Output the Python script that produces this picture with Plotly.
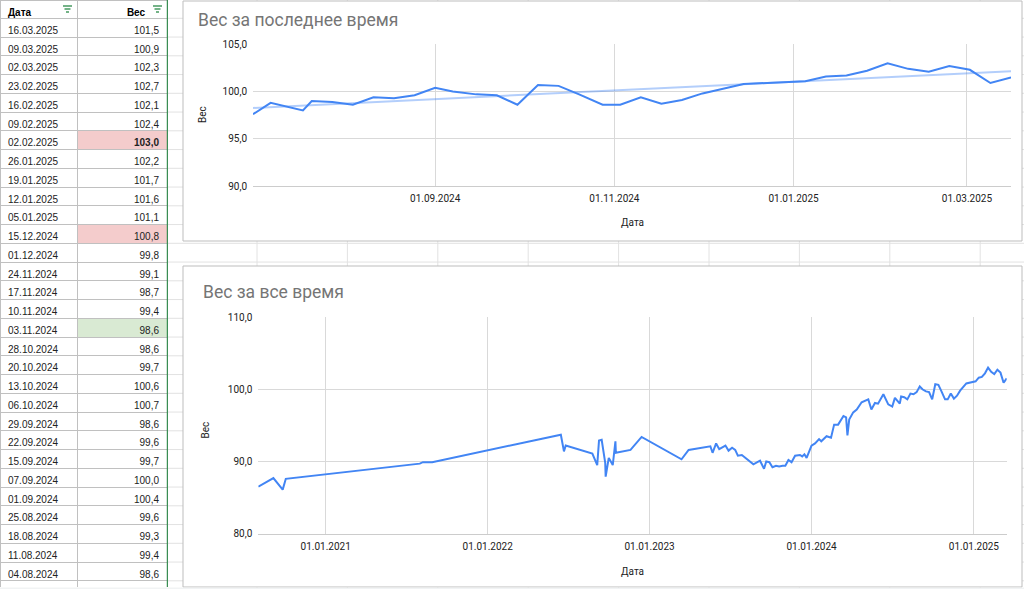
import numpy as np
import pandas as pd
import plotly.graph_objects as go

W, H = 1024, 589

# вся история веса (прочитано с графика "за все время"), от старых к новым
dates = [
    "2020-08-02", "2020-09-05", "2020-09-26", "2020-10-03",
    "2021-08-01", "2021-08-08", "2021-08-29",
    "2022-06-15", "2022-06-22", "2022-06-26", "2022-08-25", "2022-09-05",
    "2022-09-09", "2022-09-15", "2022-09-23", "2022-09-24", "2022-10-01",
    "2022-10-10", "2022-10-16", "2022-10-17", "2022-11-19", "2022-12-14",
    "2023-03-14", "2023-03-30", "2023-05-18", "2023-05-23", "2023-05-31",
    "2023-06-07", "2023-06-21", "2023-06-28", "2023-07-06", "2023-07-13",
    "2023-07-19", "2023-07-28", "2023-08-23", "2023-09-07", "2023-09-16",
    "2023-09-21", "2023-09-28", "2023-10-05", "2023-10-13", "2023-10-20",
    "2023-10-28", "2023-11-03", "2023-11-10", "2023-11-17", "2023-11-25",
    "2023-12-06", "2023-12-11", "2023-12-16", "2023-12-21",
    "2024-01-01", "2024-01-09", "2024-01-18", "2024-01-23", "2024-02-04",
    "2024-02-14", "2024-02-21", "2024-03-01", "2024-03-13", "2024-03-19",
    "2024-03-22", "2024-03-26", "2024-04-04", "2024-04-12", "2024-04-23",
    "2024-05-08", "2024-05-15", "2024-05-23", "2024-05-30", "2024-06-11",
    "2024-06-22", "2024-07-01", "2024-07-07", "2024-07-18", "2024-07-21",
    "2024-07-28", "2024-08-04", "2024-08-11", "2024-08-18", "2024-08-25",
    "2024-09-01", "2024-09-07", "2024-09-15", "2024-09-22", "2024-09-29",
    "2024-10-06", "2024-10-13", "2024-10-20", "2024-10-28", "2024-11-03",
    "2024-11-10", "2024-11-17", "2024-11-24", "2024-12-01", "2024-12-15",
    "2025-01-05", "2025-01-12", "2025-01-19", "2025-01-26", "2025-02-02",
    "2025-02-09", "2025-02-16", "2025-02-23", "2025-03-02", "2025-03-09",
    "2025-03-16",
]
weights = [
    86.5, 87.7, 86.1, 87.6,
    89.7, 89.9, 89.9,
    93.7, 91.4, 92.2, 91.1, 89.5,
    92.9, 93.0, 89.8, 87.9, 90.5,
    89.5, 92.8, 91.2, 91.6, 93.4,
    90.3, 91.6, 92.1, 91.2, 92.5,
    91.7, 92.2, 91.5, 91.9, 91.6,
    90.8, 90.9, 89.6, 90.1, 89.0,
    90.0, 89.9, 89.2, 89.4, 89.3,
    89.4, 89.4, 90.2, 89.9, 90.8,
    90.9, 90.7, 91.0, 90.5,
    92.2, 92.5, 93.1, 92.8, 93.5,
    93.3, 95.1, 95.1, 96.3, 96.1,
    93.6, 95.8, 96.8, 97.2, 98.2,
    98.6, 97.2, 98.1, 98.0, 99.3,
    97.9, 97.6, 98.8, 98.0, 99.0,
    98.9, 98.6, 99.4, 99.3, 99.6,
    100.4, 100.0, 99.7, 99.6, 98.6,
    100.7, 100.6, 99.7, 98.6, 98.6,
    99.4, 98.7, 99.1, 99.8, 100.8,
    101.1, 101.6, 101.7, 102.2, 103.0,
    102.4, 102.1, 102.7, 102.3, 100.9,
    101.5,
]

recent_start = "2024-07-01"
table_start = "2024-07-28"
recent_ticks = ["2024-09-01", "2024-11-01", "2025-01-01", "2025-03-01"]
all_ticks = ["2021-01-01", "2022-01-01", "2023-01-01", "2024-01-01", "2025-01-01"]

# подсветка ячеек в таблице
highlight = {"02.02.2025": "#f4cccc", "15.12.2024": "#f4cccc", "03.11.2024": "#d9ead3"}
bold_rows = ["02.02.2025"]

df = pd.DataFrame({"date": pd.to_datetime(dates), "w": weights})
recent = df[df["date"] >= recent_start]

# линия тренда (линейная) для последнего периода
t = (recent["date"] - recent["date"].iloc[0]).dt.days.values
coef = np.polyfit(t, recent["w"].values, 1)
trend_x = [recent["date"].iloc[0], recent["date"].iloc[-1]]
trend_y = list(np.polyval(coef, [t[0], t[-1]]))

# таблица: новые сверху
tab = df[df["date"] >= table_start].sort_values("date", ascending=False)
tab_dates = tab["date"].dt.strftime("%d.%m.%Y").tolist()
tab_vals = [f"{v:.1f}".replace(".", ",") for v in tab["w"]]
fill_b = [highlight.get(d, "white") for d in tab_dates]
weight_b = ["bold" if d in bold_rows else "normal" for d in tab_dates]
n = len(tab_dates)


def px(x):
    return x / W


def py(y):
    return 1 - y / H


BLUE = "#4285f4"
GRID = "#d9d9d9"
TXT = "#222222"
HEAD_H = 18.3
ROW_H = 18.75

fig = go.Figure()

fig.add_trace(go.Table(
    domain=dict(x=[0, px(167)], y=[py(587), 1]),
    columnwidth=[77, 90],
    header=dict(values=["Дата", "Вес" + "\u00a0" * 5],
                align=["left", "right"], height=HEAD_H,
                fill_color="white", line=dict(color="#c0c0c0", width=1),
                font=dict(family="Liberation Sans, Arial", size=10,
                          color="#000000", weight="bold")),
    cells=dict(values=[tab_dates, tab_vals],
               align=["left", "right"], height=ROW_H,
               fill=dict(color=[["white"] * n, fill_b]),
               line=dict(color="#c0c0c0", width=1),
               font=dict(family="Liberation Sans, Arial", size=10, color=TXT)),
))
# plotly.py не пускает 2D-массив для weight, а plotly.js его понимает (по ячейкам)
fig.data[0].cells.font._props["weight"] = [["normal"] * n, weight_b]

fig.add_trace(go.Scatter(x=trend_x, y=trend_y, mode="lines",
                         line=dict(color="rgba(66,133,244,0.4)", width=2),
                         xaxis="x", yaxis="y", hoverinfo="skip"))
fig.add_trace(go.Scatter(x=recent["date"], y=recent["w"], mode="lines",
                         line=dict(color=BLUE, width=2), xaxis="x", yaxis="y"))
fig.add_trace(go.Scatter(x=df["date"], y=df["w"], mode="lines",
                         line=dict(color=BLUE, width=2), xaxis="x2", yaxis="y2"))

axis_font = dict(family="Roboto", size=10, color=TXT)
xcommon = dict(type="date", tickformat="%d.%m.%Y", showgrid=True, gridcolor=GRID,
               gridwidth=1, showline=True, linecolor="#cccccc", ticks="",
               tickfont=axis_font, zeroline=False, automargin=False, ticklabelstandoff=3)
ycommon = dict(tickformat=".1f", showgrid=True, gridcolor=GRID, ticks="",
               tickfont=axis_font, zeroline=False, automargin=False, ticklabelstandoff=5)

# фон листа: сетка ячеек, рамки диаграмм
shapes = []
for k in range(31):
    yy = HEAD_H + ROW_H * k
    shapes.append(dict(type="line", xref="paper", yref="paper", layer="below",
                       x0=px(167), x1=1, y0=py(yy), y1=py(yy),
                       line=dict(color="#e2e2e2", width=1)))
xx = 257
while xx < W:
    shapes.append(dict(type="line", xref="paper", yref="paper", layer="below",
                       x0=px(xx), x1=px(xx), y0=0, y1=1,
                       line=dict(color="#e2e2e2", width=1)))
    xx += 90.4
for y0, y1 in [(1, 241), (266, 587)]:
    shapes.append(dict(type="rect", xref="paper", yref="paper", layer="below",
                       x0=px(183), x1=px(1022), y0=py(y1), y1=py(y0),
                       fillcolor="white", line=dict(color="#bdbdbd", width=1)))
shapes.append(dict(type="line", xref="paper", yref="paper",
                   x0=px(167.3), x1=px(167.3), y0=py(587), y1=1,
                   line=dict(color="#188038", width=1)))
# значки фильтра
for cx in [67.5, 157.5]:
    for i, half in enumerate([4.5, 3, 1.5]):
        yy = 6 + 3 * i
        shapes.append(dict(type="line", xref="paper", yref="paper",
                           x0=px(cx - half), x1=px(cx + half), y0=py(yy), y1=py(yy),
                           line=dict(color="#188038", width=1.2)))
shapes.append(dict(type="rect", xref="paper", yref="paper",
                   x0=0, x1=1, y0=0, y1=py(587.5),
                   fillcolor="#f1f3f4", line=dict(width=0)))

annotations = [
    dict(text="Вес за последнее время", x=px(195.7), y=py(20), xanchor="left",
         yanchor="middle", font=dict(family="Roboto", size=17.5, color="#757575")),
    dict(text="Вес за все время", x=px(200.7), y=py(292), xanchor="left",
         yanchor="middle", font=dict(family="Roboto", size=17.5, color="#757575")),
    dict(text="Вес", x=px(203), y=py(115), textangle=-90, xanchor="center",
         yanchor="middle", font=dict(family="Roboto", size=10, color=TXT)),
    dict(text="Вес", x=px(204.5), y=py(430), textangle=-90, xanchor="center",
         yanchor="middle", font=dict(family="Roboto", size=10, color=TXT)),
    dict(text="Дата", x=px(632), y=py(222), xanchor="center", yanchor="middle",
         font=dict(family="Roboto", size=10, color=TXT)),
    dict(text="Дата", x=px(632.7), y=py(571), xanchor="center", yanchor="middle",
         font=dict(family="Roboto", size=10, color=TXT)),
]
for a in annotations:
    a.update(xref="paper", yref="paper", showarrow=False)

fig.update_layout(
    width=W, height=H,
    margin=dict(l=0, r=0, t=0, b=0),
    paper_bgcolor="white", plot_bgcolor="white",
    showlegend=False, separators=", ",
    font=dict(family="Roboto", color=TXT),
    xaxis=dict(xcommon, domain=[px(253), px(1011)], anchor="y",
               range=[recent["date"].iloc[0], recent["date"].iloc[-1]],
               tickvals=recent_ticks),
    yaxis=dict(ycommon, domain=[py(186), py(44.3)], anchor="x",
               range=[90, 105], dtick=5),
    xaxis2=dict(xcommon, domain=[px(258.3), px(1006.7)], anchor="y2",
                range=[df["date"].iloc[0], df["date"].iloc[-1]],
                tickvals=all_ticks),
    yaxis2=dict(ycommon, domain=[py(533.7), py(317)], anchor="x2",
                range=[80, 110], dtick=10),
    shapes=shapes,
    annotations=annotations,
)

# убрать отступ страницы и панель инструментов
fig.write_html("out.html", config={"displayModeBar": False},
               post_script="document.body.style.margin='0';")
